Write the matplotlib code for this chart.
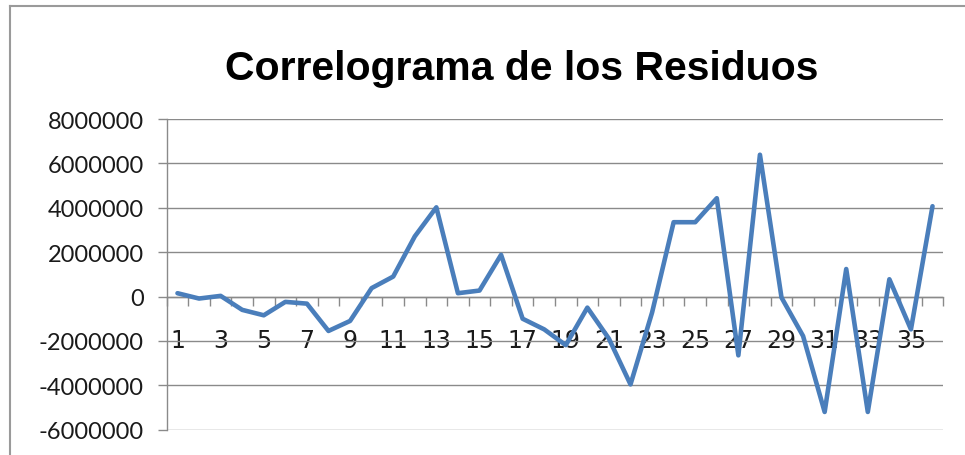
import numpy as np
import matplotlib
matplotlib.use("Agg")
import matplotlib.pyplot as plt
from matplotlib.lines import Line2D
from matplotlib.ticker import FixedLocator, NullFormatter

# residuals per lag (1..36)
lags = list(range(1, 37))
residuos = [
    150000, -90000, 30000, -600000, -845000, -240000, -320000, -1550000,
    -1100000, 380000, 900000, 2710000, 4020000, 150000, 270000, 1880000,
    -1000000, -1480000, -2190000, -500000, -1900000, -3960000, -720000, 3350000,
    3350000, 4430000, -2650000, 6390000, -45000, -1780000, -5200000, 1240000,
    -5200000, 780000, -1480000, 4070000,
]
y_ticks = [-6000000, -4000000, -2000000, 0, 2000000, 4000000, 6000000, 8000000]
x_labels = [str(i) for i in range(1, 37, 2)]

W, H = 965, 456
GRID = "#8a8a8a"
LINE = "#4A7EBB"
TXT = "#1a1a1a"

fig = plt.figure(figsize=(W / 100, H / 100), dpi=100)
fig.patch.set_facecolor("white")

# chart-area frame (left and top edges only)
fig.add_artist(Line2D([10 / W, 10 / W], [0, 1 - 7 / H], transform=fig.transFigure,
                      color="#9a9a9a", lw=1.5))
fig.add_artist(Line2D([10 / W, 1], [1 - 7 / H, 1 - 7 / H], transform=fig.transFigure,
                      color="#9a9a9a", lw=1.5))

left, right, top, bottom = 166.7, 943.3, 120, 430.7
ax = fig.add_axes([left / W, 1 - bottom / H, (right - left) / W, (bottom - top) / H])

ax.plot(lags, residuos, color=LINE, lw=3.3, solid_joinstyle="round",
        solid_capstyle="round", zorder=3)

ax.set_xlim(0.5, 36.5)
ax.set_ylim(-6000000, 8000000)

ax.set_yticks(y_ticks)
ax.set_yticklabels([str(v) for v in y_ticks])
ax.yaxis.grid(True, color=GRID, lw=1.0)
ax.set_axisbelow(True)

# category boundary ticks on the zero line, labels under odd lags
ax.xaxis.set_major_locator(FixedLocator(np.arange(0.5, 37, 1)))
ax.xaxis.set_major_formatter(NullFormatter())
ax.xaxis.set_minor_locator(FixedLocator(range(1, 37, 2)))
ax.set_xticklabels(x_labels, minor=True)
ax.tick_params(axis="x", which="major", length=6.5, width=1.0, color=GRID, direction="out")
ax.tick_params(axis="x", which="minor", length=0, pad=23, labelsize=17,
               labelcolor=TXT)
ax.tick_params(axis="y", length=6.5, width=1.0, color=GRID, pad=10,
               labelsize=17, labelcolor=TXT)
for lab in ax.get_xticklabels(minor=True) + ax.get_yticklabels():
    lab.set_family(["Lato", "DejaVu Sans"])

ax.spines["top"].set_visible(False)
ax.spines["right"].set_visible(False)
ax.spines["left"].set_color(GRID)
ax.spines["bottom"].set_color(GRID)
ax.spines["bottom"].set_position(("data", 0))
ax.spines["left"].set_linewidth(1.0)
ax.spines["bottom"].set_linewidth(1.0)

fig.text(522 / W, 1 - 69 / H, "Correlograma de los Residuos", ha="center", va="center",
         fontsize=29.5, fontweight="bold", family=["Liberation Sans", "DejaVu Sans"],
         color="black")

fig.savefig("out.png", dpi=100)
